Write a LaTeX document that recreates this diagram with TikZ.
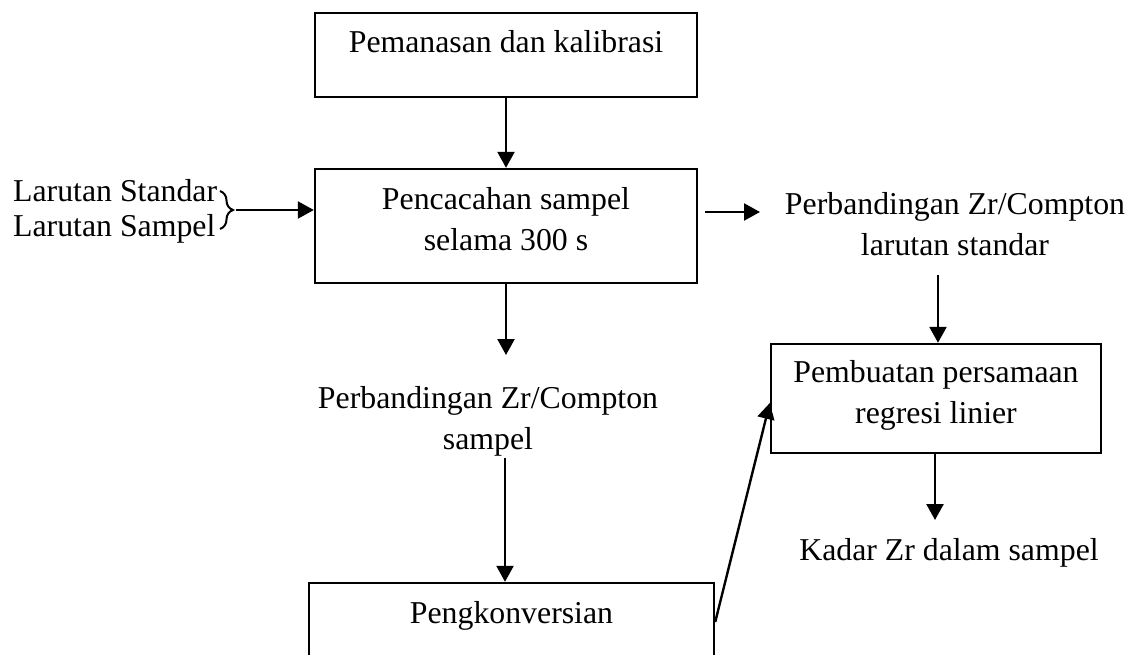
\documentclass[tikz,border=0pt]{standalone}
\usepackage{fontspec}
\setmainfont{Liberation Serif}
\usetikzlibrary{arrows.meta,decorations.pathreplacing,calc}
\newcommand{\twoline}[2]{\begin{tabular}[t]{@{}c@{}}#1\\#2\end{tabular}}
\begin{document}
\begin{tikzpicture}[x=1pt,y=-1pt,
  every node/.style={font=\fontsize{31.8}{41}\selectfont, inner sep=0pt},
  box/.style={draw, line width=2.4pt},
  arr/.style={line width=2.4pt, -{Triangle[length=16pt,width=17pt]}},
  bracestyle/.style={line width=2pt, decorate, decoration={brace, amplitude=13pt}}]
\useasboundingbox (0,0) rectangle (1144,655);
\clip (0,0) rectangle (1144,655);
% boxes
\node[box, minimum width=382pt, text height=40pt, text depth=44pt, anchor=base] (b1) at (506,53) {Pemanasan dan kalibrasi};
\node[box, minimum width=382pt, text height=41pt, text depth=73pt, anchor=base] (b2) at (506,210) {\twoline{Pencacahan sampel}{selama 300 s}};
\node[box, minimum width=330pt, text height=38pt, text depth=71pt, anchor=base] (b3) at (936,382) {\twoline{Pembuatan persamaan}{regresi linier}};
\node[box, minimum width=405pt, text height=40pt, text depth=60pt, anchor=base] (b4) at (511.5,623) {Pengkonversian};
% plain texts
\node[anchor=base west] (ls) at (13,202) {Larutan Standar};
\node[anchor=base west] (lp) at (13,237) {Larutan Sampel};
\node[anchor=base] (pr) at (955,215) {\twoline{Perbandingan Zr/Compton}{larutan standar}};
\node[anchor=base] (ps) at (488,408) {\twoline{Perbandingan Zr/Compton}{sampel}};
\node[anchor=base] (kz) at (949,560) {Kadar Zr dalam sampel};
% brace
\coordinate (br1) at (220,191);
\coordinate (br2) at (220,229);
\draw[bracestyle] (br1) -- (br2);
\coordinate (bt) at (236,210);
\draw[arr] (bt) -- (bt -| b2.west);
% connectors
\draw[arr] (b1.south) -- (b2.north);
\coordinate (r1) at (705,212);
\coordinate (r2) at (760,212);
\draw[arr] (r1) -- (r2);
\coordinate (p1) at (938,275);
\draw[arr] (p1) -- (p1 |- b3.north);
\coordinate (s1) at (506,355);
\draw[arr] (b2.south) -- (s1);
\coordinate (s2) at (505,458);
\draw[arr] (s2) -- (s2 |- b4.north);
\coordinate (k1) at (935,520);
\draw[arr] (b3.south -| k1) -- (k1);
\draw[arr] (b4.east |- 0,622) -- (b3.west |- 0,403);
\end{tikzpicture}
\end{document}
